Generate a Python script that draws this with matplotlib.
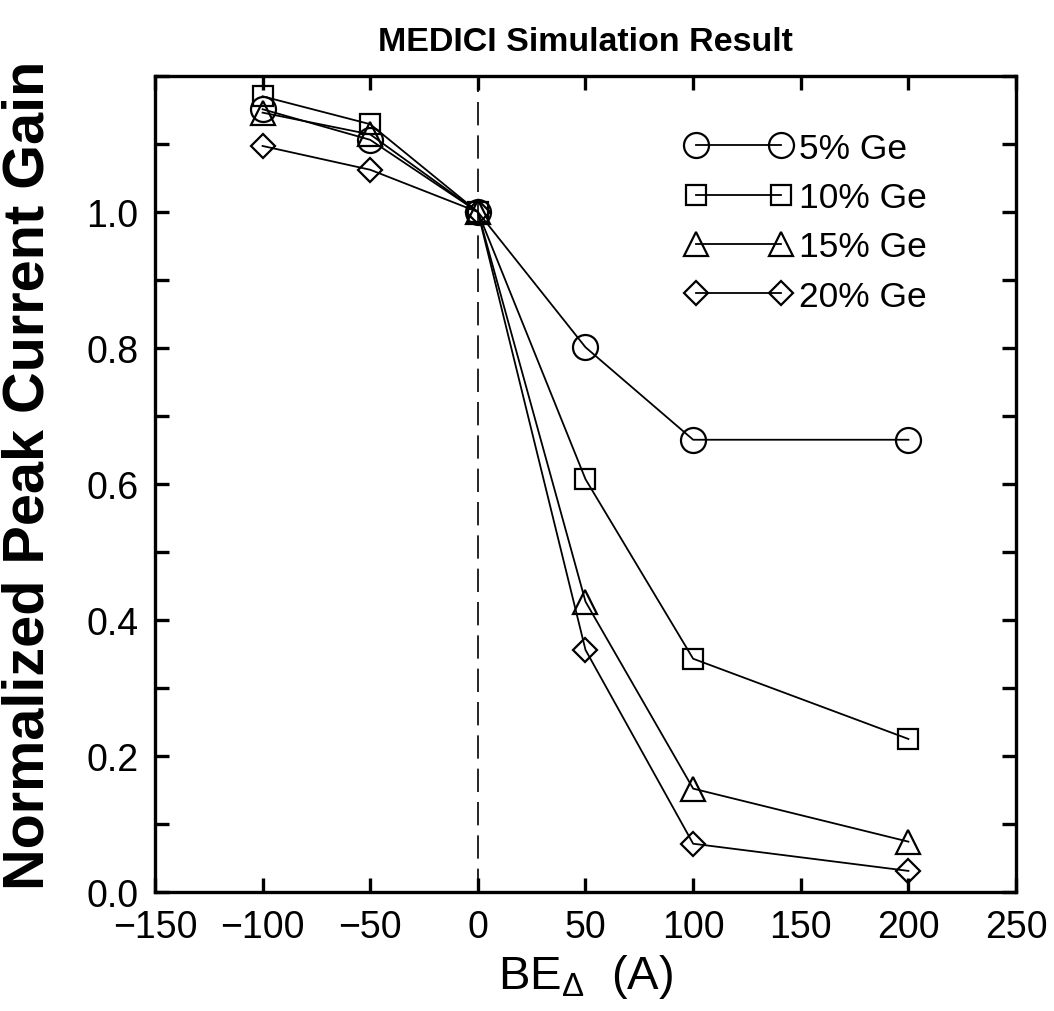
import matplotlib
matplotlib.use("Agg")
import matplotlib.pyplot as plt
import numpy as np
from matplotlib.ticker import MultipleLocator

plt.rcParams["font.family"] = ["Liberation Sans", "DejaVu Sans"]
plt.rcParams["mathtext.fontset"] = "custom"
plt.rcParams["mathtext.rm"] = "Liberation Sans"

# base-emitter offset (A) and normalized peak current gain per Ge fraction
be_offset = [-100, -50, 0, 50, 100, 200]
gain_5 = [1.151, 1.106, 1.0, 0.801, 0.665, 0.665]
gain_10 = [1.170, 1.129, 1.0, 0.607, 0.343, 0.225]
gain_15 = [1.146, 1.114, 1.0, 0.427, 0.152, 0.074]
gain_20 = [1.097, 1.062, 1.0, 0.356, 0.071, 0.031]
labels = ["5% Ge", "10% Ge", "15% Ge", "20% Ge"]

series = [gain_5, gain_10, gain_15, gain_20]
markers = ["o", "s", "^", "D"]
msizes = [18, 14, 17, 12]

fig = plt.figure(figsize=(10.54, 10.12), dpi=100)
ax = fig.add_axes([0.147, 0.1176, 0.817, 0.8064])

ax.axvline(0, color="black", lw=1.2, ls=(0, (14, 6)), zorder=1)

for vals, mk, ms, lab in zip(series, markers, msizes, labels):
    ax.plot(be_offset, vals, color="black", lw=1.3, marker=mk, ms=ms,
            mfc="none", mec="black", mew=1.6, label=lab, zorder=3)

ax.set_xlim(-150, 250)
ax.set_ylim(0, 1.2)
ax.set_xticks(np.arange(-150, 251, 50))
ax.set_yticks(np.arange(0, 1.01, 0.2))
ax.yaxis.set_minor_locator(MultipleLocator(0.1))
ax.set_yticklabels([f"{v:.1f}" for v in np.arange(0, 1.01, 0.2)])

for side in ax.spines.values():
    side.set_linewidth(2.4)
ax.tick_params(which="both", direction="in", top=True, right=True,
               length=10, width=2.4)
ax.tick_params(axis="x", pad=12)
ax.tick_params(axis="y", pad=12)
for lbl in ax.get_xticklabels() + ax.get_yticklabels():
    lbl.set_family(["Liberation Sans Narrow", "Liberation Sans", "DejaVu Sans"])
    lbl.set_fontsize(27)

ax.set_xlabel("BE$_{\\mathregular{\\Delta}}$  (A)", fontsize=34, labelpad=5)
ax.set_ylabel("Normalized Peak Current Gain", fontsize=41.5, fontweight="bold")
ax.yaxis.set_label_coords(-0.115, 0.512)
ax.set_title("MEDICI Simulation Result", fontsize=24.5, fontweight="bold", pad=19)

leg = ax.legend(loc="upper right", bbox_to_anchor=(0.925, 0.962), frameon=False,
                fontsize=25.5, numpoints=2, handlelength=3.0, handletextpad=0.2,
                labelspacing=0.46, borderaxespad=0.3)

fig.savefig("out.png", dpi=100)
